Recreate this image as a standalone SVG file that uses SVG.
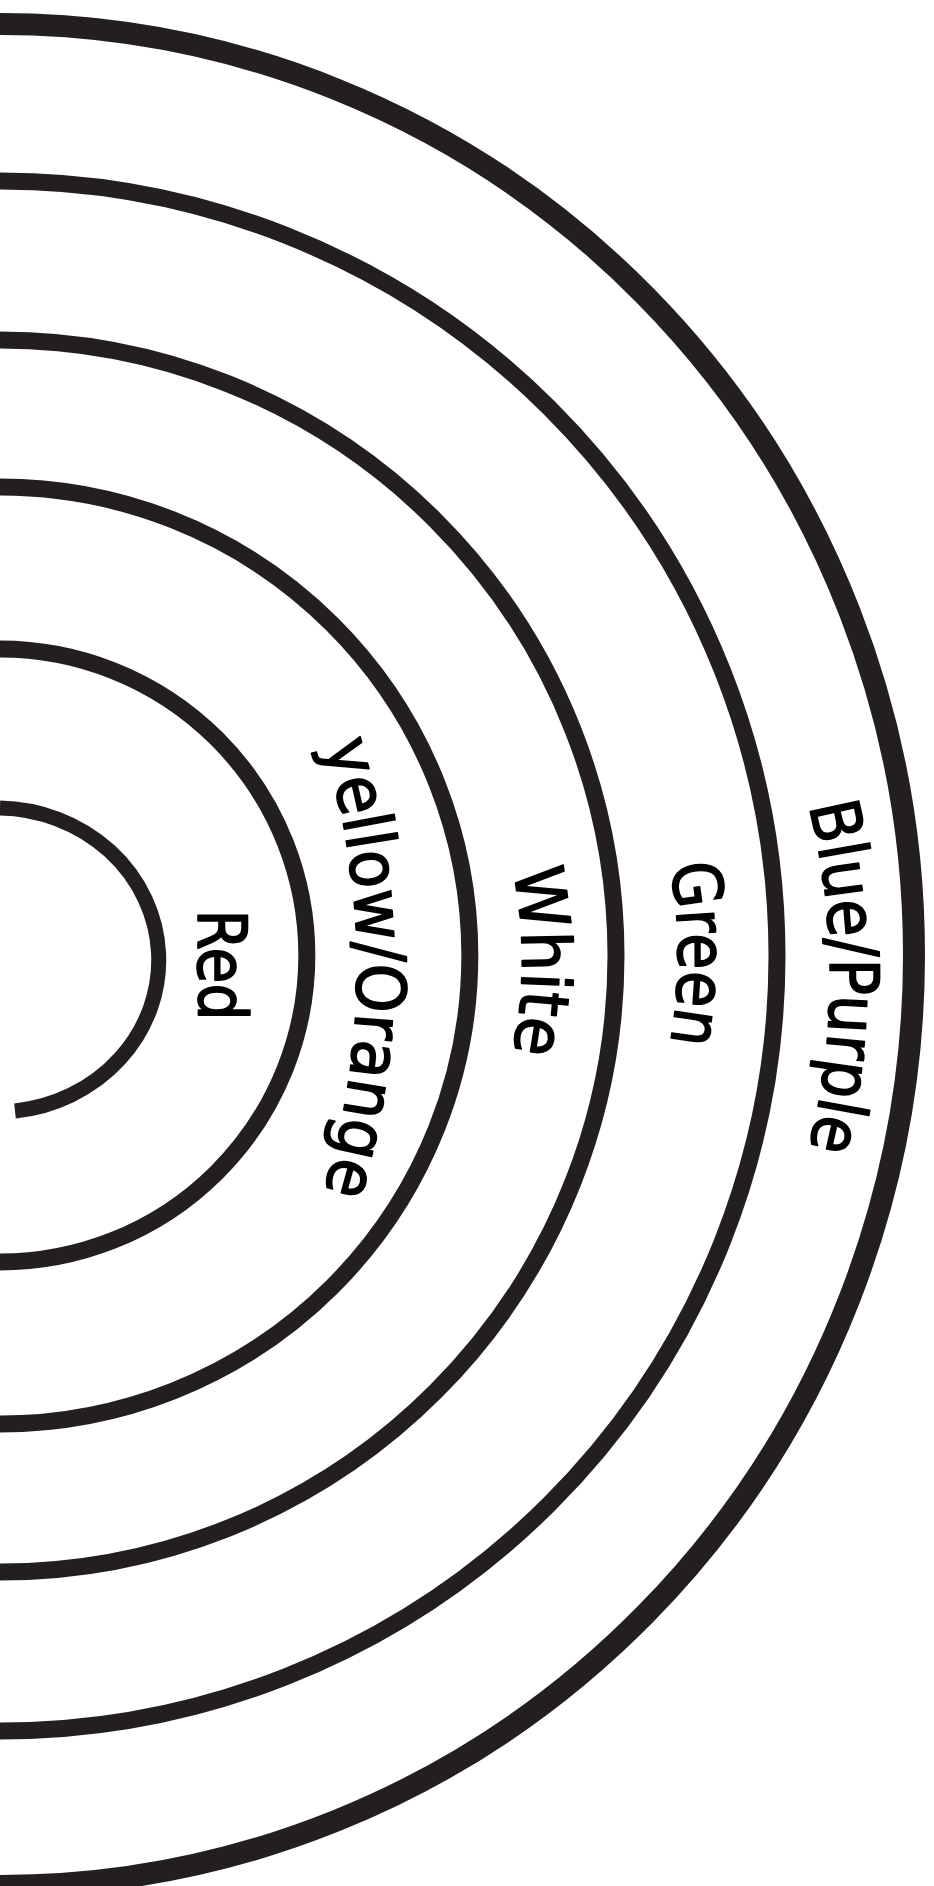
<svg xmlns="http://www.w3.org/2000/svg" width="934" height="1886" viewBox="0 0 934 1886">
<defs>
<style>
.arc{fill:none;stroke:#231f20;stroke-width:17;stroke-linecap:butt}
.core{stroke-width:15}
.outer{stroke-width:22}
.lbl{font-family:"DejaVu Sans","Liberation Sans",sans-serif;font-size:68px;fill:#000;stroke:#000;stroke-width:1.6;stroke-linejoin:round;text-anchor:middle}
</style>
<path id="p-yellow" d="M 296.6 670.3 A 765 765 0 0 1 296.6 1265.7"/>
<path id="p-white" d="M 501.9 828 A 450 450 0 0 1 501.9 1094"/>
<path id="p-green" d="M 655.7 806.2 A 500 500 0 0 1 655.7 1101.8"/>
<path id="p-blue" d="M 787.6 737 A 700 700 0 0 1 787.6 1217"/>
</defs>
<rect width="934" height="1886" fill="#fff"/>
<g id="core">
<path class="arc core" d="M 0 808 A 162 152 0 0 1 15 1111"/>
</g>
<g id="band-red">
<path class="arc" d="M 0 649 A 307 306.5 0 0 1 0 1262"/>
<text class="lbl" font-size="67" transform="translate(198,965) rotate(90)" textLength="111" lengthAdjust="spacingAndGlyphs">Red</text>
</g>
<g id="band-yellow-orange">
<path class="arc" d="M 0 487 A 470 468.5 0 0 1 0 1424"/>
<text class="lbl" font-size="69"><textPath href="#p-yellow" startOffset="50%" textLength="453" lengthAdjust="spacingAndGlyphs">yellow/Orange</textPath></text>
</g>
<g id="band-white">
<path class="arc" d="M 0 340 A 616 616 0 0 1 0 1572"/>
<text class="lbl"><textPath href="#p-white" startOffset="50%" textLength="184" lengthAdjust="spacingAndGlyphs">White</textPath></text>
</g>
<g id="band-green">
<path class="arc" d="M 0 181 A 777 775 0 0 1 0 1731"/>
<text class="lbl" font-size="67"><textPath href="#p-green" startOffset="50%" textLength="179" lengthAdjust="spacingAndGlyphs">Green</textPath></text>
</g>
<g id="band-blue-purple">
<path class="arc outer" d="M 0 24 A 914 931 0 0 1 0 1886"/>
<text class="lbl" font-size="70"><textPath href="#p-blue" startOffset="50%" textLength="346" lengthAdjust="spacingAndGlyphs">Blue/Purple</textPath></text>
</g>
<g id="connectors"></g>
</svg>
